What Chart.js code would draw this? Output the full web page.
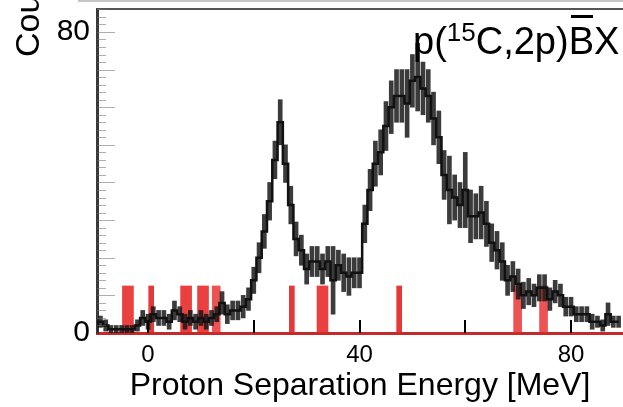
<!DOCTYPE html>
<html>
<head>
<meta charset="utf-8">
<script src="https://cdn.jsdelivr.net/npm/chart.js@4.4.1/dist/chart.umd.min.js"></script>
<style>
  body { margin: 0; background: #fff; }
  #wrap { position: relative; width: 623px; height: 407px; overflow: hidden; font-family: 'Liberation Sans', Arial, sans-serif; }
  #topline { position: absolute; left: 78px; right: 0; top: 0; height: 2px; background: #c8c4c4; }
  #ytitle { position: absolute; left: 10px; top: 57px; font-size: 34px; line-height: 34px; white-space: nowrap;
            transform-origin: left top; transform: rotate(-90deg); color: #000; }
  #reaction { position: absolute; left: 413px; top: 22px; font-size: 38px; line-height: 38px; white-space: nowrap; color: #000; }
  #reaction .sup { font-size: 26px; position: relative; top: -13px; }
  #reaction .bar { position: relative; }
  #reaction .bar::before { content: ''; position: absolute; left: 2px; right: 1px; top: -5px; height: 2.5px; background: #000; }
</style>
</head>
<body>
<div id="wrap">
  <canvas id="spectrum"></canvas>
  <div id="topline"></div>
  <div id="ytitle">Counts</div>
  <div id="reaction">p(<span class="sup">15</span>C,2p)<span class="bar">B</span>X</div>
</div>
<script>
// энергия бина (МэВ), отсчёты и ошибки
const energies = [
  -10, -9, -8, -7, -6, -5, -4, -3, -2, -1,
  0, 1, 2, 3, 4, 5, 6, 7, 8, 9,
  10, 11, 12, 13, 14, 15, 16, 17, 18, 19,
  20, 21, 22, 23, 24, 25, 26, 27, 28, 29,
  30, 31, 32, 33, 34, 35, 36, 37, 38, 39,
  40, 41, 42, 43, 44, 45, 46, 47, 48, 49,
  50, 51, 52, 53, 54, 55, 56, 57, 58, 59,
  60, 61, 62, 63, 64, 65, 66, 67, 68, 69,
  70, 71, 72, 73, 74, 75, 76, 77, 78, 79,
  80, 81, 82, 83, 84, 85, 86, 87, 88, 89
];
const counts = [
  2, 3, 2, 1, 1, 1, 1, 1, 2, 4,
  3, 5, 4, 4, 3, 6, 5, 3, 4, 3,
  4, 3, 4, 5, 8, 5, 6, 6, 7, 9,
  14, 20, 27, 35, 46, 56, 45, 34, 25, 22,
  17, 19, 19, 17, 19, 14, 18, 16, 15, 16,
  16, 29, 38, 45, 48, 55, 60, 63, 63, 61,
  67, 68, 65, 63, 57, 52, 42, 38, 36, 34,
  38, 31, 31, 32, 29, 24, 22, 19, 14, 15,
  13, 10, 11, 10, 12, 12, 9, 11, 10, 7,
  7, 5, 5, 5, 3, 3, 2, 5, 3, 3
];
const errors = [
  1.5, 1.5, 1.5, 1, 1, 1, 1, 1, 1.5, 2,
  2, 2, 2, 2, 2, 2.5, 2, 2, 2, 2,
  2, 2, 2, 2, 3, 2.5, 2.5, 2.5, 3, 3,
  3.5, 4, 4.5, 5, 5, 6, 5, 5, 4.5, 4,
  4, 4, 4, 4, 4, 9, 4, 5, 5, 4,
  4, 5, 5.5, 6, 6, 6.5, 7, 7, 7, 9,
  7, 9, 7, 7, 7, 7, 6.5, 9, 6, 6,
  10, 7, 6, 7, 6, 5, 5, 5, 4, 4,
  4, 3.5, 3.5, 3, 3.5, 3.5, 3, 3, 3, 2.5,
  2.5, 2, 2, 2, 2, 1.5, 1.5, 3, 1.5, 1.5
];

// красные линии уровней (МэВ) и их высота
const levelsWide = [-3.8, 7.2, 10.4, 33.0];
const levelsMid = [12.9, 69.9, 74.8];
const levelsThin = [0.6, 27.2, 47.5];
const levelHeight = 12.5;

const xTicks = [0, 20, 40, 60, 80];
const xTickLabels = [0, 40, 80];
const yTicks = [0, 10, 20, 30, 40, 50, 60, 70, 80];
const yTickLabels = [0, 80];

const FONT = "'Liberation Sans', Arial, sans-serif";

const histLine = energies.map((e, i) => ({ x: e, y: counts[i] }));
const errBars = energies.map((e, i) => ({ x: e, y: [Math.max(0, counts[i] - errors[i]), counts[i] + errors[i]] }));
const levelBars = arr => arr.map(e => ({ x: e, y: levelHeight }));

// рамка сверху и внутренние засечки
const frameTicks = {
    id: 'frameTicks',
    afterDatasetsDraw(chart) {
        const { ctx, chartArea: a, scales: { x, y } } = chart;
        ctx.save();
        ctx.strokeStyle = '#555';
        ctx.lineWidth = 2;
        ctx.beginPath();
        ctx.moveTo(a.left, a.top);
        ctx.lineTo(a.right, a.top);
        ctx.stroke();

        ctx.strokeStyle = 'rgba(110,110,110,0.55)';
        ctx.lineWidth = 1;
        for (let v = 2; v < y.max; v += 2) {
            const py = Math.round(y.getPixelForValue(v)) + 0.5;
            const len = v % 10 === 0 ? 18 : 9;
            ctx.beginPath();
            ctx.moveTo(a.left, py);
            ctx.lineTo(a.left + len, py);
            ctx.stroke();
        }

        ctx.strokeStyle = '#000';
        ctx.lineWidth = 2;
        x.ticks.forEach(t => {
            const px = Math.round(x.getPixelForValue(t.value));
            ctx.beginPath();
            ctx.moveTo(px, a.bottom);
            ctx.lineTo(px, a.bottom - 13);
            ctx.stroke();
        });
        ctx.restore();
    }
};

const ctx = document.getElementById('spectrum').getContext('2d');
new Chart(ctx, {
    type: 'bar',
    data: {
        datasets: [
            {
                type: 'line',
                data: histLine,
                stepped: 'middle',
                borderColor: '#111',
                borderWidth: 2.5,
                pointRadius: 0,
                fill: false,
                order: 1,
            },
            {
                data: errBars,
                backgroundColor: 'rgba(25,25,25,0.85)',
                barThickness: 4,
                grouped: false,
                order: 2,
            },
            {
                data: levelBars(levelsWide),
                backgroundColor: 'rgba(230,30,30,0.85)',
                barThickness: 11,
                grouped: false,
                order: 3,
            },
            {
                data: levelBars(levelsMid),
                backgroundColor: 'rgba(232,40,40,0.8)',
                barThickness: 8,
                grouped: false,
                order: 3,
            },
            {
                data: levelBars(levelsThin),
                backgroundColor: 'rgba(225,35,35,0.9)',
                barThickness: 5,
                grouped: false,
                order: 3,
            },
        ],
    },
    options: {
        responsive: true,
        maintainAspectRatio: false,
        animation: false,
        layout: { padding: { top: 9, right: 0, left: 0, bottom: 0 } },
        plugins: {
            legend: { display: false },
            tooltip: { enabled: false },
        },
        scales: {
            x: {
                type: 'linear',
                offset: false,
                min: -9.65,
                max: 89.83,
                grid: { display: false, drawTicks: false, offset: false },
                border: { display: true, color: '#c42a2a', width: 3 },
                afterBuildTicks: s => { s.ticks = xTicks.map(v => ({ value: v })); },
                ticks: {
                    padding: 8,
                    maxRotation: 0,
                    autoSkip: false,
                    color: '#000',
                    font: { family: FONT, size: 24 },
                    callback: v => (xTickLabels.includes(v) ? String(v) : ''),
                },
                title: {
                    display: true,
                    text: 'Proton Separation Energy [MeV]',
                    color: '#000',
                    font: { family: FONT, size: 32 },
                    padding: { top: 0, bottom: 2 },
                },
                afterFit: s => { s.height = 74; s.paddingLeft = 0; s.paddingRight = 0; },
            },
            y: {
                min: 0,
                max: 86.1,
                grid: { display: false, drawTicks: false },
                border: { display: true, color: '#3a3a3a', width: 3 },
                afterBuildTicks: s => { s.ticks = yTicks.map(v => ({ value: v })); },
                ticks: {
                    padding: 7,
                    autoSkip: false,
                    color: '#000',
                    font: { family: FONT, size: 30 },
                    callback: v => (yTickLabels.includes(v) ? String(v) : ''),
                },
                afterFit: s => { s.width = 97; s.paddingTop = 0; s.paddingBottom = 0; },
            },
        },
    },
    plugins: [frameTicks],
});
</script>
</body>
</html>
